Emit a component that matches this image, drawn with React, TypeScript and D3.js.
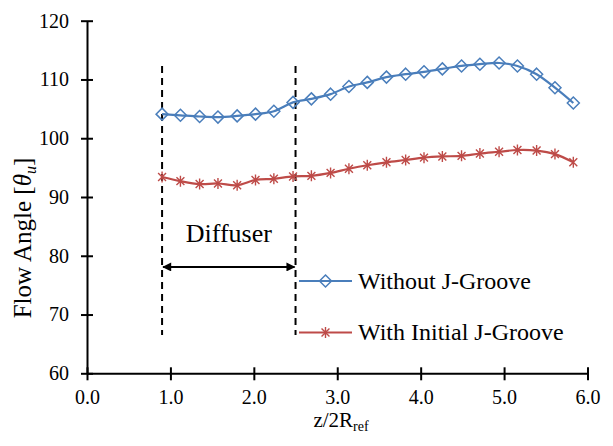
import React, { useRef, useEffect } from 'react'
import * as d3 from 'd3'

// axial position z/2R_ref of each monitor point
const zValues = [0.9, 1.12, 1.35, 1.57, 1.8, 2.02, 2.24, 2.47, 2.69, 2.92, 3.14, 3.36, 3.59, 3.82, 4.04, 4.26, 4.49, 4.71, 4.94, 5.16, 5.39, 5.61, 5.83]
const withoutGroove = [104.1, 103.9, 103.7, 103.6, 103.8, 104.1, 104.6, 106.1, 106.7, 107.5, 108.8, 109.5, 110.4, 110.9, 111.3, 111.8, 112.3, 112.6, 112.8, 112.3, 110.9, 108.6, 106.0]
const withInitialGroove = [93.4, 92.7, 92.2, 92.3, 92.0, 92.9, 93.1, 93.5, 93.6, 94.1, 94.8, 95.4, 95.9, 96.3, 96.7, 96.9, 97.0, 97.4, 97.7, 98.0, 97.9, 97.3, 95.9]
const xTicks = [0, 1, 2, 3, 4, 5, 6]
const yTicks = [60, 70, 80, 90, 100, 110, 120]
const diffuserBounds = [0.9, 2.5]
const diffuserSpan = [66.5, 112.3]
const diffuserArrowAt = 78.1
const seriesNames = ['Without J-Groove', 'With Initial J-Groove']

const FONT = 'Liberation Serif, Times New Roman, serif'
const BLUE = '#4A7EBB'
const RED = '#BE4B48'

function diamond(g, cx, cy, r) {
  g.append('path')
    .attr('d', `M${cx},${cy - r}L${cx + r},${cy}L${cx},${cy + r}L${cx - r},${cy}Z`)
    .attr('fill', 'none').attr('stroke', BLUE).attr('stroke-width', 1.5)
}

function star(g, cx, cy, r) {
  const d = r * 0.72
  g.append('path')
    .attr('d', `M${cx},${cy - r}L${cx},${cy + r}M${cx - d},${cy - d}L${cx + d},${cy + d}M${cx - d},${cy + d}L${cx + d},${cy - d}`)
    .attr('fill', 'none').attr('stroke', RED).attr('stroke-width', 1.4)
}

export default function App() {
  const svgRef = useRef(null)
  const width = 613
  const height = 446

  useEffect(() => {
    if (!svgRef.current) return
    const svg = d3.select(svgRef.current)
    svg.selectAll('*').remove()

    const x = d3.scaleLinear().domain([0, 6]).range([87, 587.5])
    const y = d3.scaleLinear().domain([60, 120]).range([373.3, 20.7])

    // axes
    const yAxis = svg.append('g')
      .attr('transform', `translate(${x(0)},0)`)
      .call(d3.axisLeft(y).tickValues(yTicks).tickSize(6).tickSizeOuter(0).tickPadding(12))
    yAxis.attr('font-family', null).attr('font-size', null)
    yAxis.selectAll('line').attr('x1', 6).attr('x2', -6).attr('stroke', '#000').attr('stroke-width', 2)
    yAxis.select('.domain').attr('stroke', '#000').attr('stroke-width', 2)
    yAxis.selectAll('text').attr('font-size', 20).attr('fill', '#000')

    const xAxis = svg.append('g')
      .attr('transform', `translate(0,${y(60)})`)
      .call(d3.axisBottom(x).tickValues(xTicks).tickSize(6).tickSizeOuter(0).tickFormat(d3.format('.1f')))
    xAxis.attr('font-family', null).attr('font-size', null)
    xAxis.selectAll('line').attr('y1', -6).attr('y2', 7).attr('stroke', '#000').attr('stroke-width', 2)
    xAxis.select('.domain').attr('stroke', '#000').attr('stroke-width', 2)
    xAxis.selectAll('text').attr('y', 31).attr('dy', 0)
      .attr('font-size', 20).attr('fill', '#000')

    // axis titles
    const yt = svg.append('text')
      .attr('transform', `translate(31,238) rotate(-90)`)
      .attr('text-anchor', 'middle').attr('font-size', 25)
    yt.append('tspan').text('Flow Angle [')
    yt.append('tspan').attr('font-style', 'italic').text('θ')
    yt.append('tspan').attr('font-style', 'italic').attr('font-size', 16).attr('dy', 5).text('u')
    yt.append('tspan').attr('dy', -5).text(']')

    const xt = svg.append('text')
      .attr('x', 341).attr('y', 427)
      .attr('text-anchor', 'middle').attr('font-size', 21)
    xt.append('tspan').text('z/2R')
    xt.append('tspan').attr('font-size', 14).attr('dy', 4).text('ref')

    // diffuser markers
    diffuserBounds.forEach(b => {
      svg.append('line')
        .attr('x1', x(b)).attr('x2', x(b))
        .attr('y1', y(diffuserSpan[1])).attr('y2', y(diffuserSpan[0]))
        .attr('stroke', '#000').attr('stroke-width', 2).attr('stroke-dasharray', '7,5')
    })
    const defs = svg.append('defs')
    defs.append('marker')
      .attr('id', 'arrow').attr('viewBox', '0 0 10 10')
      .attr('refX', 9).attr('refY', 5)
      .attr('markerWidth', 5).attr('markerHeight', 4.5)
      .attr('orient', 'auto-start-reverse')
      .append('path').attr('d', 'M0,0L10,5L0,10Z').attr('fill', '#000')
    svg.append('line')
      .attr('x1', x(diffuserBounds[0]) + 1).attr('x2', x(diffuserBounds[1]) - 1)
      .attr('y1', y(diffuserArrowAt)).attr('y2', y(diffuserArrowAt))
      .attr('stroke', '#000').attr('stroke-width', 2)
      .attr('marker-start', 'url(#arrow)').attr('marker-end', 'url(#arrow)')
    svg.append('text')
      .attr('x', (x(diffuserBounds[0]) + x(diffuserBounds[1])) / 2).attr('y', 242)
      .attr('text-anchor', 'middle').attr('font-size', 26)
      .text('Diffuser')

    // series
    const line = d3.line()
      .x((d, i) => x(zValues[i]))
      .y(d => y(d))
      .curve(d3.curveCatmullRom.alpha(0.5))

    svg.append('path').datum(withoutGroove)
      .attr('d', line).attr('fill', 'none').attr('stroke', BLUE).attr('stroke-width', 2.2)
    svg.append('path').datum(withInitialGroove)
      .attr('d', line).attr('fill', 'none').attr('stroke', RED).attr('stroke-width', 2.2)

    const gb = svg.append('g')
    withoutGroove.forEach((v, i) => diamond(gb, x(zValues[i]), y(v), 6))
    const gr = svg.append('g')
    withInitialGroove.forEach((v, i) => star(gr, x(zValues[i]), y(v), 5.5))

    // legend
    const legend = svg.append('g')
    const rows = [281, 332.5]
    seriesNames.forEach((name, i) => {
      const row = legend.append('g')
      const color = i === 0 ? BLUE : RED
      row.append('line')
        .attr('x1', 299).attr('x2', 352).attr('y1', rows[i]).attr('y2', rows[i])
        .attr('stroke', color).attr('stroke-width', 2.2)
      if (i === 0) diamond(row, 325.5, rows[i], 6)
      else star(row, 325.5, rows[i], 5.5)
      row.append('text')
        .attr('x', 358).attr('y', rows[i]).attr('dy', '0.33em')
        .attr('font-size', 24)
        .text(name)
    })
  }, [])

  return (
    <svg ref={svgRef} width={width} height={height} fontFamily={FONT}
      style={{ position: 'absolute', left: 0, top: 0, background: '#fff', fontFamily: FONT }} />
  )
}
